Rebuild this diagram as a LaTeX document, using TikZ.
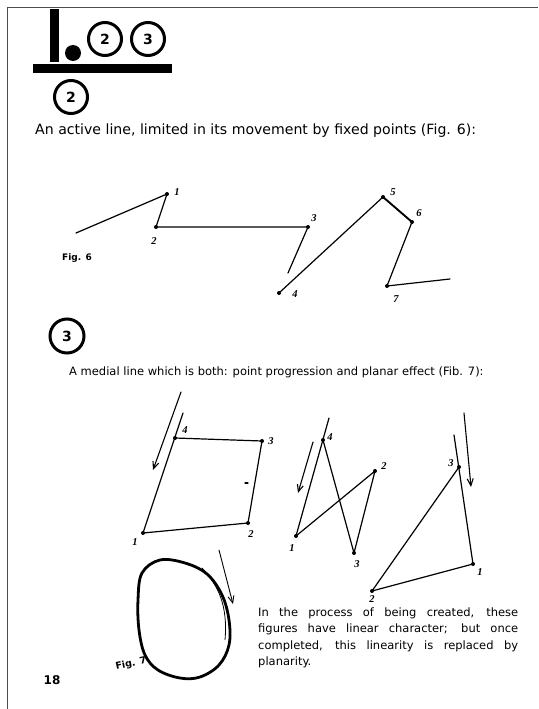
\documentclass[tikz,border=0pt]{standalone}
\usepackage{fontspec}
\setmainfont{DejaVu Sans}
\newfontfamily\handfont{Liberation Serif}
\usetikzlibrary{arrows.meta}
\begin{document}
\begin{tikzpicture}[x=1pt,y=-1pt,
  fig/.style={line width=1.2pt, line cap=round, line join=round},
  dot/.style={circle, fill=black, inner sep=0pt, minimum size=4pt},
  lbl/.style={font=\handfont\itshape\bfseries\fontsize{10.5}{10.5}\selectfont, inner sep=0pt},
  arr/.style={line width=1.1pt, line cap=round, -{Straight Barb[length=7pt,width=6pt]}},
  ring/.style={circle, draw, line width=3pt, minimum size=33pt, inner sep=0pt, font=\bfseries\fontsize{14}{14}\selectfont},
  body/.style={font=\fontsize{11.5}{13}\selectfont, inner sep=0pt, anchor=west},
  figlbl/.style={font=\bfseries\fontsize{9}{9}\selectfont, inner sep=0pt}]
\useasboundingbox (0,0) rectangle (538,709);
% page frame
\draw[black!70, line width=1pt] (538,8) -- (7.5,8) -- (7.5,709);
% header logo
\fill (50,9) rectangle (59,62);
\node[dot, minimum size=16pt] (hdot) at (73,53) {};
\node[ring] (h2) at (105,39) {2};
\node[ring] (h3) at (148,39) {3};
\fill (33,64) rectangle (172,73);
\node[ring] (s2) at (71,97) {2};
% text line 1
\node[body, font=\fontsize{14.1}{15}\selectfont] (t1) at (35,131) {An active line, limited in its movement by fixed points (Fig. 6):};
% Fig. 6
\coordinate (f6s) at (76,233);
\node[dot] (p1) at (167,194) {};
\node[dot] (p2) at (156,227) {};
\node[dot] (p3) at (308,227) {};
\coordinate (p3e) at (288,273);
\node[dot] (p4) at (279,293) {};
\node[dot] (p5) at (383,197) {};
\node[dot] (p6) at (412,222) {};
\node[dot] (p7) at (387,286) {};
\coordinate (f6e) at (450,279);
\draw[fig] (f6s) -- (p1.center) -- (p2.center) -- (p3.center) -- (p3e);
\draw[fig] (p4.center) -- (p5.center);
\draw[fig, line width=1.9pt] (p5.center) -- (p6.center);
\draw[fig] (p6.center) -- (p7.center) -- (f6e);
\node[lbl] (l1) at (177,192) {1};
\node[lbl] (l2) at (154,241) {2};
\node[lbl] (l3) at (314,218) {3};
\node[lbl] (l4) at (295,294) {4};
\node[lbl] (l5) at (393,192) {5};
\node[lbl] (l6) at (419,213) {6};
\node[lbl] (l7) at (396,299) {7};
\node[figlbl] (fig6) at (77,258) {Fig. 6};
% section 3
\node[ring, minimum size=34pt] (s3) at (67,336) {3};
\node[body] (t2) at (69,372) {A medial line which is both: point progression and planar effect (Fib. 7):};
% Fig. 7 left quadrilateral
\node[dot] (q1) at (143,533) {};
\node[dot] (q2) at (248,523) {};
\node[dot] (q3) at (262,441) {};
\node[dot] (q4) at (175,438) {};
\coordinate (q4e) at (183,413);
\draw[fig] (q1.center) -- (q4e);
\draw[fig] (q4.center) -- (q3.center) -- (q2.center) -- (q1.center);
\coordinate (qda) at (245,483);
\coordinate (qdb) at (248,483);
\draw[fig] (qda) -- (qdb);
\coordinate (qaa) at (181,392);
\coordinate (qab) at (153,470);
\draw[arr] (qaa) -- (qab);
\node[lbl] (ql1) at (135,542) {1};
\node[lbl] (ql2) at (251,534) {2};
\node[lbl] (ql3) at (271,441) {3};
\node[lbl] (ql4) at (185,430) {4};
% middle figure
\node[dot] (m1) at (296,536) {};
\node[dot] (m2) at (375,471) {};
\node[dot] (m3) at (354,553) {};
\node[dot] (m4) at (323,440) {};
\coordinate (m4e) at (329,418);
\draw[fig] (m1.center) -- (m4e);
\draw[fig] (m4.center) -- (m3.center) -- (m2.center) -- (m1.center);
\coordinate (maa) at (313,442);
\coordinate (mab) at (298,493);
\draw[arr] (maa) -- (mab);
\node[lbl] (ml1) at (292,548) {1};
\node[lbl] (ml2) at (384,466) {2};
\node[lbl] (ml3) at (357,564) {3};
\node[lbl] (ml4) at (330,437) {4};
% right triangle
\node[dot] (r1) at (473,564) {};
\node[dot] (r2) at (372,591) {};
\node[dot] (r3) at (459,467) {};
\coordinate (r3e) at (454,435);
\draw[fig] (r1.center) -- (r3e);
\draw[fig] (r3.center) -- (r2.center) -- (r1.center);
\coordinate (raa) at (464,413);
\coordinate (rab) at (471,487);
\draw[arr] (raa) -- (rab);
\node[lbl] (rl1) at (480,572) {1};
\node[lbl] (rl2) at (372,599) {2};
\node[lbl] (rl3) at (451,463) {3};
% egg
\draw[line width=2.8pt, line join=round] plot[smooth cycle, tension=0.6] coordinates {
  (160,560) (185,563) (207,574) (222,595) (229,620) (229,645) (219,665)
  (200,677) (180,678) (158,670) (145,655) (139,630) (138,600) (142,573)};
\coordinate (ia) at (202,568);
\coordinate (ib) at (225,640);
\draw[line width=0.8pt] (ia) .. controls (218,585) and (228,605) .. (ib);
\coordinate (eaa) at (219,550);
\coordinate (eab) at (233,604);
\draw[arr, line width=0.9pt] (eaa) -- (eab);
\node[figlbl, rotate=12, font=\bfseries\fontsize{9.5}{9.5}\selectfont] (fig7) at (131,664) {Fig. 7};
% paragraph
\node[anchor=north west, align=left, inner sep=0pt,
  font=\fontsize{11.5}{16.5}\selectfont] (para) at (258,607.5)
  {\makebox[260pt][s]{In the process of being created, these}\\
   \makebox[260pt][s]{figures have linear character; but once}\\
   \makebox[260pt][s]{completed, this linearity is replaced by}\\
   planarity.};
% page number
\node[font=\bfseries\fontsize{12}{12}\selectfont, inner sep=0pt] (pg) at (52,680) {18};
\end{tikzpicture}
\end{document}
